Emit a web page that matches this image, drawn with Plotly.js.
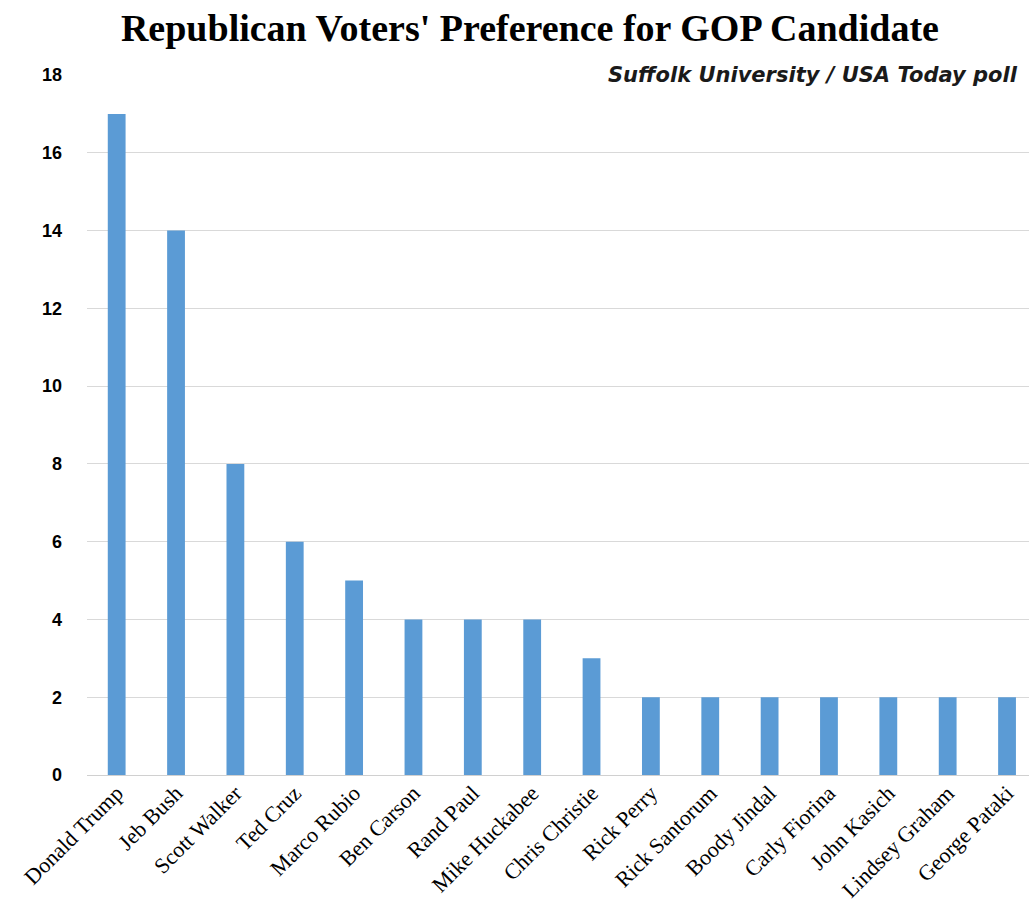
<!DOCTYPE html>
<html>
<head>
<meta charset="utf-8">
<script src="https://cdn.plot.ly/plotly-3.0.1.min.js"></script>
<style>html,body{margin:0;padding:0;background:#fff;}#chart{width:1029px;height:909px;}</style>
</head>
<body>
<div id="chart"></div>
<script>
const candidates = ["Donald Trump","Jeb Bush","Scott Walker","Ted Cruz","Marco Rubio","Ben Carson","Rand Paul","Mike Huckabee","Chris Christie","Rick Perry","Rick Santorum","Boody Jindal","Carly Fiorina","John Kasich","Lindsey Graham","George Pataki"];
const preference = [17,14,8,6,5,4,4,4,3,2,2,2,2,2,2,2];
const yTicks = [0,2,4,6,8,10,12,14,16,18];

const trace = {
  type: "bar",
  x: candidates,
  y: preference,
  marker: {color: "#5B9BD5"},
  hoverinfo: "x+y"
};

const layout = {
  width: 1029, height: 909,
  margin: {l: 87, r: 0, t: 75, b: 134},
  paper_bgcolor: "#fff", plot_bgcolor: "#fff",
  bargap: 0.70,
  showlegend: false,
  title: {
    text: "Republican Voters' Preference for GOP Candidate",
    font: {family: "Liberation Serif, serif", size: 38, color: "#000", weight: "bold"},
    x: 0.515, xanchor: "center", y: 0.97, yanchor: "middle"
  },
  annotations: [{
    text: "<b><i>Suffolk University / USA Today poll</i></b>",
    xref: "paper", yref: "paper", x: 0.99, y: 1.0, xanchor: "right", yanchor: "middle",
    showarrow: false,
    font: {family: "DejaVu Sans, sans-serif", size: 21, color: "#1a1a1a"}
  }],
  xaxis: {
    type: "category",
    range: [-0.5, 15.37],
    tickangle: -45,
    tickfont: {family: "Liberation Serif, serif", size: 22, color: "#000"},
    showgrid: false,
    showline: false,
    ticks: "",
    zeroline: false,
    fixedrange: true
  },
  yaxis: {
    range: [0, 18],
    tickvals: yTicks,
    ticktext: yTicks.map(String),
    tickfont: {family: "Liberation Sans, sans-serif", size: 18, color: "#000", weight: "bold"},
    showgrid: true,
    gridcolor: "#d9d9d9",
    gridwidth: 1,
    zeroline: true,
    zerolinecolor: "#d0d0d0",
    zerolinewidth: 1,
    showline: false,
    ticks: "",
    ticklabelstandoff: 24,
    fixedrange: true
  }
};

Plotly.newPlot("chart", [trace], layout, {displayModeBar: false, staticPlot: true});
</script>
</body>
</html>
